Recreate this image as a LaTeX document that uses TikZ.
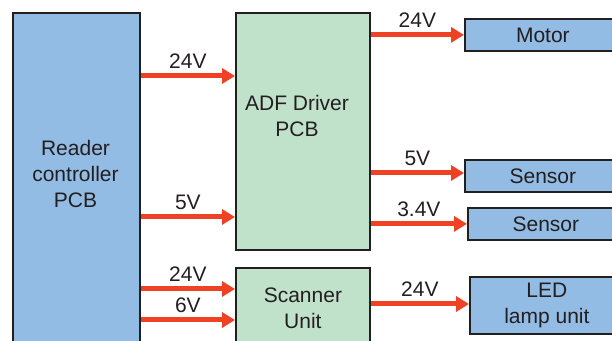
\documentclass[tikz,border=0pt]{standalone}
\usepackage{fontspec}
\setmainfont{Liberation Sans}
\usepackage{xcolor}
\usepackage{tikz}
\usetikzlibrary{arrows.meta, positioning, calc}

\definecolor{pcbblue}{RGB}{147,188,228}
\definecolor{pcbgreen}{RGB}{192,226,203}
\definecolor{pwrred}{RGB}{239,65,35}
\definecolor{inkgray}{RGB}{35,31,32}

\begin{document}
\begin{tikzpicture}[
  x=0.5pt, y=-0.5pt,
  font=\fontsize{10.5}{13}\selectfont, text=inkgray,
  board/.style  = {draw=inkgray, line width=0.9pt, fill=pcbgreen,
                   anchor=north west, align=center, inner sep=0pt},
  ctrl/.style   = {board, fill=pcbblue},
  load/.style   = {board, fill=pcbblue, minimum height=16pt},
  txt/.style    = {align=center, inner sep=0pt},
  arr/.style    = {-{Triangle[length=6.5pt, width=7.5pt]}, draw=pwrred,
                   line width=2.5pt},
  lbl/.style    = {midway, above, inner sep=2.4pt, text=inkgray},
]

\clip (0,0) rectangle (612,341);

%% Reader controller
\node[ctrl, minimum width=63.5pt, minimum height=174pt] (reader) at (12,12) {};
\node[txt] (readertxt) at (75.5,173.5) {Reader\\controller\\PCB};

%% ADF driver and scanner
\node[board, minimum width=67pt, minimum height=118.5pt] (adf) at (235,12) {};
\node[txt] (adftxt) at (297,116) {ADF Driver\\PCB};
\node[board, minimum width=67pt, minimum height=40pt] (scan) at (235,267)
     {Scanner\\Unit};

%% Loads
\node[load, minimum width=78pt] (motor) at (464,18)  {Motor};
\node[load, minimum width=78pt] (sensa) at (464,159) {Sensor};
\node[load, minimum width=78pt] (sensb) at (467,207) {Sensor};
\node[load, minimum width=77pt, minimum height=28.5pt] (led) at (469,276)
     {LED\\lamp unit};

%% Supply lines from the reader controller
\draw[arr] (reader.east |- 0,76)  -- (adf.west |- 0,76)   node[lbl] {24V};
\draw[arr] (reader.east |- 0,217) -- (adf.west |- 0,217)  node[lbl] {5V};
\draw[arr] (reader.east |- 0,289) -- (scan.west |- 0,289) node[lbl] {24V};
\draw[arr] (reader.east |- 0,320) -- (scan.west |- 0,320) node[lbl] {6V};

%% Supply lines to the loads
\draw[arr] (adf.east |- motor.west) -- (motor.west)        node[lbl] {24V};
\draw[arr] (adf.east |- 0,173)      -- (sensa.west |- 0,173) node[lbl] {5V};
\draw[arr] (adf.east |- sensb.west) -- (sensb.west)        node[lbl] {3.4V};
\draw[arr] (scan.east |- 0,304)     -- (led.west |- 0,304)   node[lbl] {24V};

\end{tikzpicture}
\end{document}
